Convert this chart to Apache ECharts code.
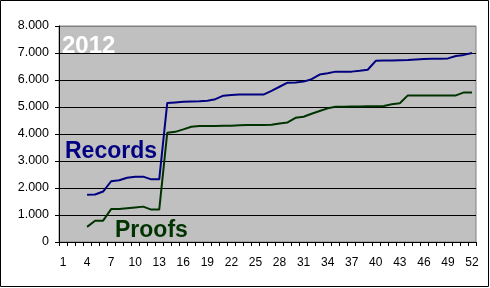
<!DOCTYPE html>
<html>
<head>
<meta charset="utf-8">
<script src="https://cdn.jsdelivr.net/npm/echarts@6/dist/echarts.min.js"></script>
<style>html,body{margin:0;padding:0;background:#fff}#c{width:490px;height:288px}</style>
</head>
<body>
<div id="c"></div>
<script>
var weeks = ['1','2','3','4','5','6','7','8','9','10','11','12','13','14','15','16','17','18','19','20','21','22','23','24','25','26','27','28','29','30','31','32','33','34','35','36','37','38','39','40','41','42','43','44','45','46','47','48','49','50','51','52'];
var records = [null,null,null,1750,1760,1870,2250,2290,2380,2420,2420,2320,2320,5150,5170,5190,5200,5210,5230,5290,5420,5440,5460,5460,5460,5460,5600,5750,5900,5910,5940,6030,6200,6250,6310,6310,6310,6340,6380,6710,6720,6720,6730,6740,6760,6780,6790,6790,6800,6890,6930,7000];
var proofs = [null,null,null,560,790,790,1220,1220,1250,1280,1310,1200,1200,4050,4080,4170,4270,4300,4300,4300,4310,4310,4320,4330,4330,4330,4340,4390,4430,4600,4640,4750,4850,4950,5010,5010,5020,5020,5030,5030,5040,5100,5140,5430,5430,5430,5430,5430,5430,5430,5540,5540];
var seriesNames = ['Records','Proofs'];
var titleText = '2012';

var chart = echarts.init(document.getElementById('c'), null, {renderer:'canvas'});
var font = 'Arial, "Liberation Sans", sans-serif';
chart.setOption({
  animation:false,
  backgroundColor:'#ffffff',
  grid:{left:59,right:14,top:26,bottom:46,show:true,backgroundColor:'#c0c0c0',borderColor:'#808080',borderWidth:1},
  xAxis:{
    type:'category', data:weeks, boundaryGap:true,
    axisLine:{lineStyle:{color:'#000',width:1}},
    axisTick:{show:true,interval:0,length:4,lineStyle:{color:'#000'}},
    axisLabel:{interval:2,color:'#000',fontSize:12,fontFamily:font,margin:15},
    splitLine:{show:false}
  },
  yAxis:{
    type:'value', min:0, max:8000, interval:1000,
    axisLine:{show:true,lineStyle:{color:'#000',width:1}},
    axisTick:{show:true,length:4,lineStyle:{color:'#000'}},
    axisLabel:{color:'#000',fontSize:12.5,fontFamily:font,margin:10,
      formatter:function(v){return v===0?'0':(v/1000).toFixed(3);}},
    splitLine:{show:true,lineStyle:{color:['#000','#000','#000','#000','#000','#000','#000','#000','#808080'],width:1}}
  },
  series:[
    {name:seriesNames[0],type:'line',data:records,showSymbol:false,symbol:'none',connectNulls:false,
     lineStyle:{color:'#000080',width:2},itemStyle:{color:'#000080'}},
    {name:seriesNames[1],type:'line',data:proofs,showSymbol:false,symbol:'none',connectNulls:false,
     lineStyle:{color:'#003300',width:2},itemStyle:{color:'#003300'}}
  ],
  graphic:[
    {type:'rect',shape:{x:0.5,y:0.5,width:488,height:286},style:{fill:'none',stroke:'#000',lineWidth:1},z:100},
    {type:'text',left:62,top:34,style:{text:titleText,fill:'#ffffff',font:'bold 24px '+font},z:100},
    {type:'text',left:65,top:140,style:{text:seriesNames[0],fill:'#000080',font:'bold 23px '+font},z:100},
    {type:'text',left:115,top:219,style:{text:seriesNames[1],fill:'#003300',font:'bold 23px '+font},z:100}
  ]
});
</script>
</body>
</html>
